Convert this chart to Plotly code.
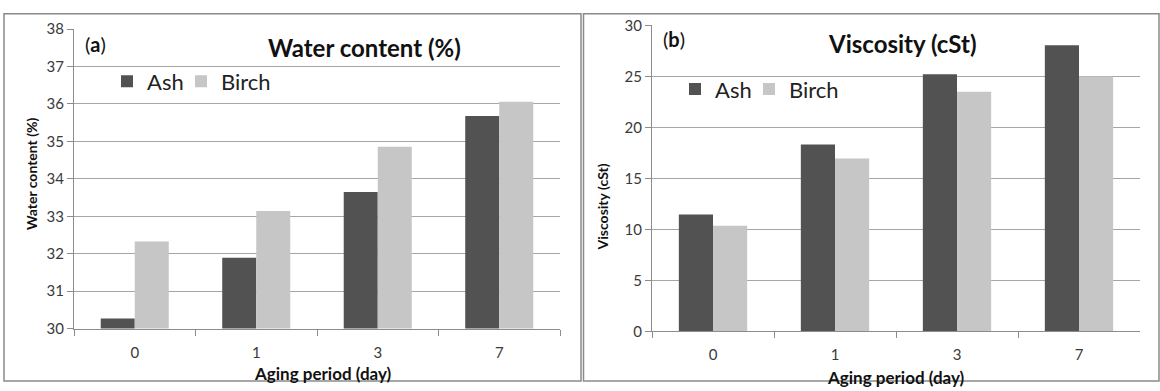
import plotly.graph_objects as go

# Aging period categories (days)
days = ["0", "1", "3", "7"]

# Panel (a): water content (%)
water_ash = [30.27, 31.89, 33.65, 35.68]
water_birch = [32.33, 33.14, 34.86, 36.06]

# Panel (b): viscosity (cSt)
visc_ash = [11.47, 18.32, 25.2, 28.04]
visc_birch = [10.37, 16.94, 23.49, 24.98]

ASH = "#525252"
BIRCH = "#c6c6c6"
FONT = "Lato, 'Open Sans', sans-serif"
GRID = "#a6a6a6"
AXIS = "#8c8c8c"

fig = go.Figure()

fig.add_trace(go.Bar(x=days, y=water_ash, name="Ash", marker=dict(color=ASH, line=dict(width=0)),
                     xaxis="x", yaxis="y", legend="legend", legendwidth=29))
fig.add_trace(go.Bar(x=days, y=water_birch, name="Birch", marker=dict(color=BIRCH, line=dict(width=0)),
                     xaxis="x", yaxis="y", legend="legend", legendwidth=100))
fig.add_trace(go.Bar(x=days, y=visc_ash, name="Ash", marker=dict(color=ASH, line=dict(width=0)),
                     xaxis="x2", yaxis="y2", legend="legend2", legendwidth=29))
fig.add_trace(go.Bar(x=days, y=visc_birch, name="Birch", marker=dict(color=BIRCH, line=dict(width=0)),
                     xaxis="x2", yaxis="y2", legend="legend2", legendwidth=100))

W, H = 1160, 391


def px(x):
    return x / W


def py(y):
    return 1 - y / H


xaxis_common = dict(
    type="category", showgrid=False, showline=True, linecolor=AXIS, linewidth=1,
    ticks="outside", tickson="boundaries", ticklen=6, tickcolor=AXIS, ticklabelstandoff=10,
    tickfont=dict(family=FONT, size=15, color="#3a3a3a"), fixedrange=True,
)
yaxis_common = dict(
    showgrid=True, gridcolor=GRID, gridwidth=1, showline=True, linecolor=AXIS, linewidth=1,
    ticks="outside", ticklen=6, tickcolor=AXIS, zeroline=False,
    tickfont=dict(family=FONT, size=15, color="#3a3a3a"), fixedrange=True,
)

legend_common = dict(
    orientation="h", xanchor="left", yanchor="top",
    font=dict(family=FONT, size=22, color="#222222"), bgcolor="rgba(0,0,0,0)",
    itemwidth=30, traceorder="normal",
)

fig.update_layout(
    width=W, height=H,
    margin=dict(l=0, r=0, t=0, b=0),
    paper_bgcolor="white", plot_bgcolor="white",
    barmode="group", bargap=0.44, bargroupgap=0,
    font=dict(family=FONT, color="#222222"),
    xaxis=dict(domain=[px(74), px(560)], anchor="y", **xaxis_common),
    yaxis=dict(domain=[py(334), py(20)], anchor="x", range=[30, 38], dtick=1, **yaxis_common),
    xaxis2=dict(domain=[px(652), px(1140)], anchor="y2", **xaxis_common),
    yaxis2=dict(domain=[py(337), py(16)], anchor="x2", range=[0, 30], dtick=5, **yaxis_common),
    legend=dict(x=px(107), y=py(53), **legend_common),
    legend2=dict(x=px(675), y=py(61), **legend_common),
)

annotations = [
    # chart titles
    dict(text="<b>Water content (%)</b>", x=px(364), y=py(39), font=dict(size=24)),
    dict(text="<b>Viscosity (cSt)</b>", x=px(902), y=py(35), font=dict(size=24)),
    # panel tags
    dict(text="(<b>a</b>)", x=px(95), y=py(36), font=dict(size=20)),
    dict(text="(<b>b</b>)", x=px(674), y=py(30), font=dict(size=20)),
    # axis titles
    dict(text="<b>Aging period (day)</b>", x=px(323), y=py(381), font=dict(size=17)),
    dict(text="<b>Aging period (day)</b>", x=px(896), y=py(385), font=dict(size=17)),
    dict(text="<b>Water content (%)</b>", x=px(31), y=py(172), textangle=-90, font=dict(size=14)),
    dict(text="<b>Viscosity (cSt)</b>", x=px(602), y=py(207), textangle=-90, font=dict(size=14)),
]
for a in annotations:
    a.update(xref="paper", yref="paper", showarrow=False, xanchor="center", yanchor="middle")
    a["font"].update(family=FONT, color="#111111")
fig.update_layout(annotations=annotations)

# panel frames
fig.update_layout(shapes=[
    dict(type="rect", xref="paper", yref="paper", x0=px(4), x1=px(581), y0=py(389), y1=py(4),
         line=dict(color="#8a8a8a", width=1.5)),
    dict(type="rect", xref="paper", yref="paper", x0=px(583.5), x1=px(1159), y0=py(389), y1=py(4),
         line=dict(color="#8a8a8a", width=1.5)),
])

fig.write_html("out.html")
